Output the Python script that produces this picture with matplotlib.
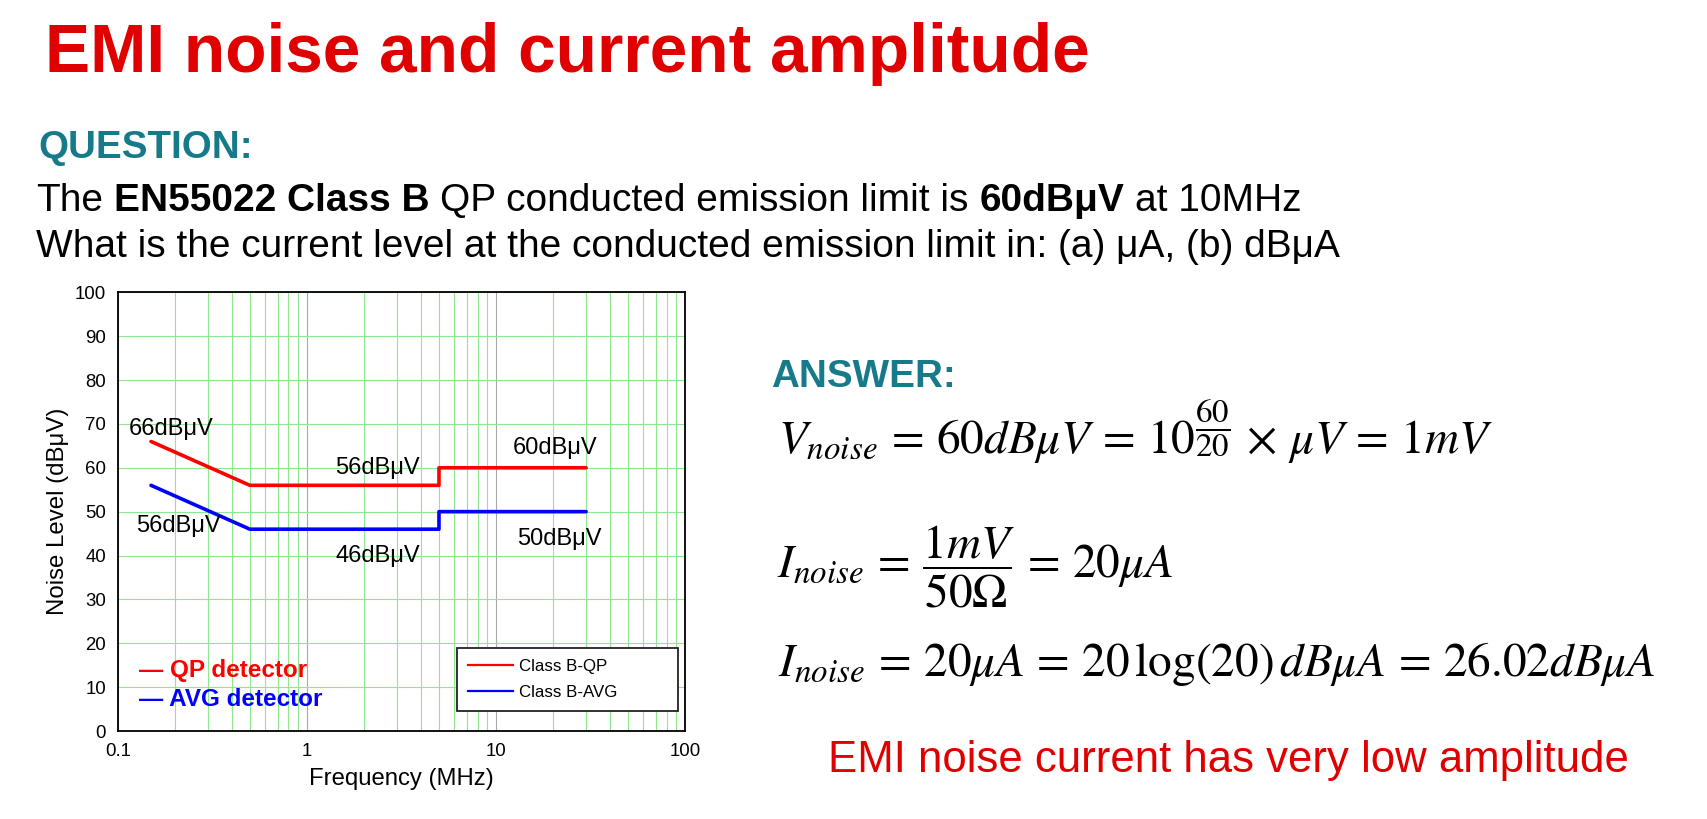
import matplotlib.pyplot as plt
from matplotlib.lines import Line2D
from matplotlib.ticker import FixedLocator, LogLocator, NullFormatter

W, H = 1708, 819

plt.rcParams['font.family'] = ['Liberation Sans', 'DejaVu Sans']
plt.rcParams['mathtext.fontset'] = 'stix'

# EN55022 Class B conducted emission limits
freq_mhz = [0.15, 0.5, 5, 5, 30]
qp_limit = [66, 56, 56, 60, 60]
avg_limit = [56, 46, 46, 50, 50]

y_ticks = [0, 10, 20, 30, 40, 50, 60, 70, 80, 90, 100]
x_ticks = [0.1, 1, 10, 100]
x_tick_labels = ['0.1', '1', '10', '100']

# level labels: text, freq (MHz), level (dBuV) of baseline-left corner
qp_labels = [('66dBμV', 0.1148, 67.5), ('56dBμV', 1.41, 58.6), ('60dBμV', 12.27, 63.1)]
avg_labels = [('56dBμV', 0.125, 45.4), ('46dBμV', 1.41, 38.6), ('50dBμV', 12.88, 42.4)]

RED = '#E00000'
TEAL = '#177A8A'
GREEN = '#8FE88F'


def fx(x):
    return x / W


def fy(y):
    return 1 - y / H


fig = plt.figure(figsize=(W / 100, H / 100), dpi=100)
ax = fig.add_axes([fx(117.7), fy(731), 567.3 / W, 438.7 / H])

ax.set_xscale('log')
ax.set_xlim(0.1, 100)
ax.set_ylim(0, 100)
ax.xaxis.set_major_locator(FixedLocator(x_ticks))
ax.set_xticklabels(x_tick_labels)
ax.xaxis.set_minor_locator(LogLocator(base=10, subs=range(2, 10)))
ax.xaxis.set_minor_formatter(NullFormatter())
ax.set_yticks(y_ticks)
ax.tick_params(which='both', length=0, labelsize=13.4, pad=8.5)

ax.grid(which='minor', axis='x', color=GREEN, lw=0.8)
ax.grid(which='major', axis='x', color='#A8A8A8', lw=0.8)
ax.grid(which='major', axis='y', color=GREEN, lw=0.8)
ax.set_axisbelow(True)
for s in ax.spines.values():
    s.set_linewidth(1.3)
    s.set_color('black')

ax.plot(freq_mhz, qp_limit, color='#FF0000', lw=2.6, solid_capstyle='round')
ax.plot(freq_mhz, avg_limit, color='#0000FF', lw=2.6, solid_capstyle='round')

for txt, f, lvl in qp_labels + avg_labels:
    ax.text(f, lvl, txt, fontsize=17, ha='left', va='baseline')

ax.text(0.130, 12.4, '— QP detector', fontsize=17.5, fontweight='bold', color='#FF0000',
        ha='left', va='baseline')
ax.text(0.130, 5.8, '— AVG detector', fontsize=17.5, fontweight='bold', color='#0000FF',
        ha='left', va='baseline')

handles = [Line2D([], [], color='#FF0000', lw=1.6), Line2D([], [], color='#0000FF', lw=1.6)]
leg = ax.legend(handles, ['Class B-QP', 'Class B-AVG'], loc='upper left',
                bbox_to_anchor=(0.5976, 0.0456, 0.3895, 0.1444), mode='expand',
                fontsize=12.2, fancybox=False, framealpha=1, edgecolor='#222222',
                borderpad=0.65, labelspacing=0.65, handlelength=2.65, handletextpad=0.4,
                borderaxespad=0)
leg.get_frame().set_linewidth(1.3)

ax.set_xlabel('Frequency (MHz)', fontsize=17.2, labelpad=6)
ax.set_ylabel('Noise Level (dBμV)', fontsize=17.3, labelpad=4)

# slide texts
fig.text(fx(45), fy(72), 'EMI noise and current amplitude', fontsize=48.7,
         fontweight='bold', color=RED, va='baseline')
fig.text(fx(38), fy(157.7), 'QUESTION:', fontsize=27.8, fontweight='bold',
         color=TEAL, va='baseline')


def rich_line(x, y, parts, size):
    t = fig.text(fx(x), fy(y), parts[0][0], fontsize=size, fontweight=parts[0][1],
                 va='baseline')
    for s, wt in parts[1:]:
        t = ax.annotate(s, xy=(1, 0), xycoords=t, xytext=(0.278 * size, 0),
                        textcoords='offset points', fontsize=size, fontweight=wt,
                        ha='left', va='bottom', annotation_clip=False)
    return t


rich_line(36, 210.7, [('The', 'normal'), ('EN55022 Class B', 'bold'),
                      ('QP conducted emission limit is', 'normal'),
                      ('60dBμV', 'bold'), ('at 10MHz', 'normal')], 28)
fig.text(fx(36), fy(257.3), 'What is the current level at the conducted emission limit in: (a) μA, (b) dBμA',
         fontsize=28, va='baseline')

fig.text(fx(771), fy(387), 'ANSWER:', fontsize=27.8, fontweight='bold',
         color=TEAL, va='baseline')

fig.text(fx(778), fy(454),
         r'$V_{noise} \,=\, 60dB\mu V \,=\, 10^{\dfrac{60}{20}} \,\times\, \mu V \,=\, 1mV$',
         fontsize=34, va='baseline')
fig.text(fx(777), fy(576.7), r'$I_{noise} \,=\, \dfrac{1mV}{50\Omega} \,=\, 20\mu A$',
         fontsize=34, va='baseline')
fig.text(fx(778), fy(676),
         r'$I_{noise} \,=\, 20\mu A \,=\, 20\,\log(20)\,dB\mu A \,=\, 26.02dB\mu A$',
         fontsize=34, va='baseline')

fig.text(fx(827.7), fy(772.3), 'EMI noise current has very low amplitude', fontsize=31.5,
         color=RED, va='baseline')

fig.savefig('out.png', dpi=100)
